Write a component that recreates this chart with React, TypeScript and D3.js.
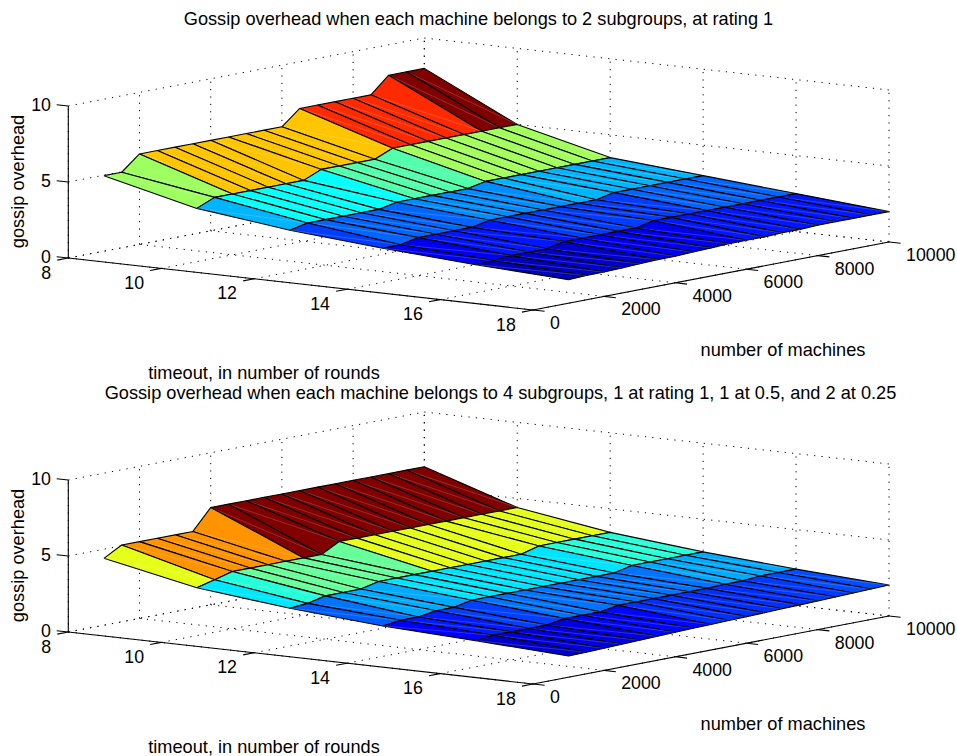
import React from 'react';
import * as d3 from 'd3';

// axes of the two plots
const timeouts = [8, 10, 12, 14, 16, 18];
const machines = [1000, 1500, 2000, 2500, 3000, 3500, 4000, 4500, 5000, 5500, 6000, 6500, 7000, 7500, 8000, 8500, 9000, 9500, 10000];
const timeoutTicks = [8, 10, 12, 14, 16, 18];
const machineTicks = [0, 2000, 4000, 6000, 8000, 10000];
const overheadTicks = [0, 5, 10];

// overhead per timeout, one value per entry of machines
const top8 = [4.97, 4.97, 5.95, 5.95, 5.95, 5.95, 5.95, 5.95, 5.95, 5.95, 5.95, 6.93, 6.93, 6.93, 6.93, 6.93, 8, 8, 8];
const top10 = [3.5, 4, 4, 4, 4, 4, 4, 4.5, 4.5, 4.5, 4.5, 5, 5, 5, 5, 5, 5, 5, 5];
const top12 = [2.75, 3, 3, 3, 3, 3, 3.25, 3.25, 3.25, 3.25, 3.25, 3.5, 3.5, 3.5, 3.5, 3.5, 3.5, 3.5, 3.5];
const top14 = [2.25, 2.25, 2.5, 2.5, 2.5, 2.5, 2.75, 2.75, 2.75, 2.75, 2.75, 2.75, 2.75, 3, 3, 3, 3, 3, 3];
const top16 = [1.85, 1.9, 2, 2, 2, 2.25, 2.25, 2.25, 2.25, 2.25, 2.5, 2.5, 2.5, 2.5, 2.5, 2.5, 2.5, 2.5, 2.5];
const top18 = [1.55, 1.6, 1.6, 1.65, 1.7, 1.75, 1.75, 1.8, 1.85, 1.9, 1.9, 1.9, 1.95, 1.95, 2, 2, 2, 2, 2];

const bottom8 = [4.4, 5.05, 5.05, 5.05, 5.05, 5.05, 6.4, 6.4, 6.4, 6.4, 6.4, 6.4, 6.4, 6.4, 6.4, 6.4, 6.4, 6.4, 6.4];
const bottom10 = [3.15, 3.45, 3.77, 3.77, 3.77, 3.77, 3.77, 3.77, 4.4, 4.4, 4.4, 4.4, 4.4, 4.4, 4.4, 4.4, 4.4, 4.4, 4.4];
const bottom12 = [2.48, 2.58, 2.85, 2.85, 2.85, 3.13, 3.13, 3.13, 3.13, 3.13, 3.13, 3.13, 3.13, 3.13, 3.45, 3.45, 3.45, 3.45, 3.45];
const bottom14 = [2, 2.15, 2.15, 2.33, 2.33, 2.58, 2.58, 2.58, 2.58, 2.58, 2.58, 2.58, 2.58, 2.58, 2.85, 2.85, 2.85, 2.85, 2.85];
const bottom16 = [1.72, 1.85, 1.85, 1.85, 1.85, 2.05, 2.05, 2.05, 2.25, 2.25, 2.25, 2.25, 2.25, 2.25, 2.3, 2.3, 2.4, 2.4, 2.4];
const bottom18 = [1.39, 1.42, 1.46, 1.5, 1.54, 1.58, 1.62, 1.66, 1.68, 1.72, 1.75, 1.78, 1.82, 1.85, 1.88, 1.92, 1.96, 2, 2.04];

const topTitle = 'Gossip overhead when each machine belongs to 2 subgroups, at rating 1';
const bottomTitle = 'Gossip overhead when each machine belongs to 4 subgroups, 1 at rating 1, 1 at 0.5, and 2 at 0.25';

// the fixed matlab view, as offsets from the corner timeout=8, machines=0, overhead=0
const timeoutX = d3.scaleLinear().domain([8, 18]).range([0, 464.7]);
const timeoutY = d3.scaleLinear().domain([8, 18]).range([0, 52]);
const machineX = d3.scaleLinear().domain([0, 10000]).range([0, 356]);
const machineY = d3.scaleLinear().domain([0, 10000]).range([0, -68]);
const overheadY = d3.scaleLinear().domain([0, 10]).range([0, -152]);
const originX = 68.3;
const originY = 258;

const project = (t: number, m: number, z: number): [number, number] => [
  originX + timeoutX(t) + machineX(m),
  originY + timeoutY(t) + machineY(m) + overheadY(z),
];
const line = d3.line();
const path3d = (pts: number[][]) => line(pts.map(p => project(p[0], p[1], p[2])));

const jetStops = [0, 1 / 8, 3 / 8, 5 / 8, 7 / 8, 1];
const jetColors = ['#00008f', '#0000ff', '#00ffff', '#ffff00', '#ff0000', '#800000'];
const jet = d3.scaleLinear<string>().domain(jetStops).range(jetColors).clamp(true);

const font = '"Liberation Sans", Arial, sans-serif';
const dots = '1.2 6.2';

const Grid = () => {
  const lines: number[][][] = [];
  machineTicks.forEach(m => {
    lines.push([[8, m, 0], [18, m, 0]]);
    lines.push([[8, m, 0], [8, m, 10]]);
  });
  timeoutTicks.forEach(t => {
    lines.push([[t, 0, 0], [t, 10000, 0]]);
    lines.push([[t, 10000, 0], [t, 10000, 10]]);
  });
  overheadTicks.forEach(z => {
    lines.push([[8, 0, z], [8, 10000, z]]);
    lines.push([[8, 10000, z], [18, 10000, z]]);
  });
  return (
    <g fill="none" stroke="#000" strokeWidth={1} strokeDasharray={dots}>
      {lines.map((l, i) => <path key={i} d={path3d(l)!} />)}
    </g>
  );
};

const Surface = ({ rows }: { rows: number[][] }) => {
  const zs = rows.flat();
  const color = d3.scaleLinear().domain(d3.extent(zs) as [number, number]).range([0, 1]);
  const cells: React.ReactElement[] = [];
  // back to front, so nearer cells paint over the ones behind
  for (let i = 0; i < timeouts.length - 1; i++) {
    for (let j = machines.length - 2; j >= 0; j--) {
      const a = [timeouts[i], machines[j], rows[i][j]];
      const b = [timeouts[i + 1], machines[j], rows[i + 1][j]];
      const c = [timeouts[i + 1], machines[j + 1], rows[i + 1][j + 1]];
      const d = [timeouts[i], machines[j + 1], rows[i][j + 1]];
      cells.push(
        <g key={`${i}-${j}`}>
          <path d={path3d([a, b, c, d, a])!} fill={jet(color(rows[i][j]))} stroke="#000" strokeWidth={1.1} strokeLinejoin="round" />
          <path d={path3d([a, c])!} fill="none" stroke="#fff" strokeOpacity={0.35} strokeWidth={0.5} />
        </g>
      );
    }
  }
  return <g>{cells}</g>;
};

const Axes = () => {
  const ticks: number[][][] = [
    [[8, 0, 0], [18, 0, 0]],
    [[18, 0, 0], [18, 10000, 0]],
    [[8, 0, 0], [8, 0, 10]],
  ];
  const tickM = 310;
  const tickT = 0.25;
  timeoutTicks.forEach(t => ticks.push([[t, 0, 0], [t, -tickM, 0]]));
  machineTicks.forEach(m => ticks.push([[18, m, 0], [18 + tickT, m, 0]]));
  overheadTicks.forEach(z => ticks.push([[8, 0, z], [8 - tickT, 0, z]]));
  const textStyle = { fontFamily: font, fontSize: 17.8, fill: '#000' };
  return (
    <g>
      <g fill="none" stroke="#000" strokeWidth={1.1}>
        {ticks.map((l, i) => <path key={i} d={path3d(l)!} />)}
      </g>
      <g style={textStyle} textAnchor="end" dominantBaseline="central">
        {timeoutTicks.map(t => {
          const [x, y] = project(t, 0, 0);
          return <text key={t} x={x - 17.2} y={y + 14.5}>{t}</text>;
        })}
        {overheadTicks.map(z => {
          const [x, y] = project(8, 0, z);
          return <text key={z} x={x - 17.3} y={y - 1}>{z}</text>;
        })}
      </g>
      <g style={textStyle} textAnchor="start" dominantBaseline="central">
        {machineTicks.map(m => {
          const [x, y] = project(18, m, 0);
          return <text key={m} x={x + 17} y={y + 13}>{m}</text>;
        })}
      </g>
    </g>
  );
};

const Plot = ({ rows, title, titleX, shift }: { rows: number[][]; title: string; titleX: number; shift: number }) => (
  <g transform={`translate(0,${shift})`}>
    <Grid />
    <Surface rows={rows} />
    <Axes />
    <g style={{ fontFamily: font, fontSize: 18.2, fill: '#000' }} textAnchor="middle" dominantBaseline="central">
      <text x={titleX} y={19}>{title}</text>
      <text x={783} y={350}>number of machines</text>
      <text x={264} y={373}>timeout, in number of rounds</text>
      <text transform="translate(18,181.5) rotate(-90)">gossip overhead</text>
    </g>
  </g>
);

const App = () => (
  <svg width={957} height={756} style={{ position: 'absolute', left: 0, top: 0, background: '#fff' }}>
    <Plot rows={[top8, top10, top12, top14, top16, top18]} title={topTitle} titleX={478.5} shift={0} />
    <Plot rows={[bottom8, bottom10, bottom12, bottom14, bottom16, bottom18]} title={bottomTitle} titleX={500.5} shift={374} />
  </svg>
);

export default App;
